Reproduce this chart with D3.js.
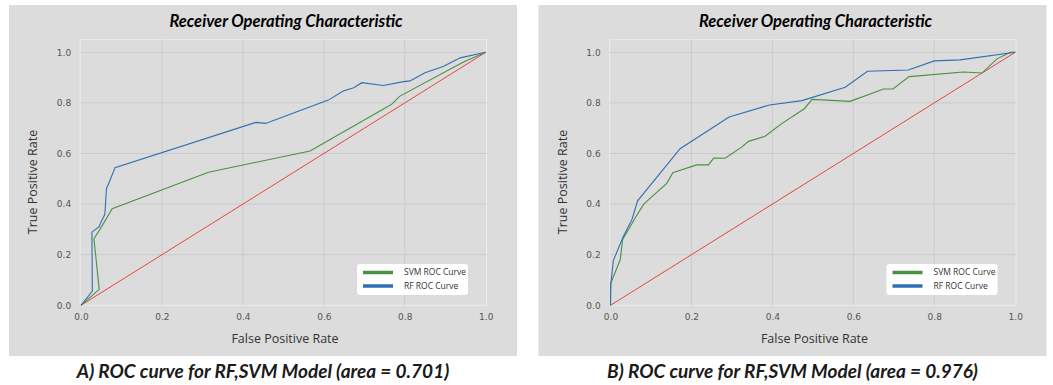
<!DOCTYPE html>
<html>
<head>
<meta charset="utf-8">
<script src="https://cdn.jsdelivr.net/npm/d3@7"></script>
<style>
  body { margin: 0; background: #fff; }
  svg { display: block; }
</style>
</head>
<body>
<svg id="chart" width="1053" height="385"></svg>
<script>
// ROC points: [fpr, tpr]
const rfA = [[0,0],[0.028,0.056],[0.027,0.289],[0.045,0.311],[0.049,0.327],[0.059,0.36],[0.063,0.462],
  [0.072,0.495],[0.084,0.544],[0.432,0.723],[0.456,0.719],[0.611,0.811],[0.648,0.847],[0.674,0.86],
  [0.694,0.88],[0.747,0.869],[0.797,0.884],[0.813,0.887],[0.85,0.919],[0.895,0.944],[0.937,0.978],[1,1]];
const svmA = [[0,0],[0.045,0.063],[0.032,0.263],[0.051,0.311],[0.077,0.382],[0.315,0.526],[0.566,0.61],
  [0.743,0.772],[0.768,0.795],[0.787,0.826],[0.945,0.962],[1,1]];

const rfB = [[0,0],[0,0.073],[0.007,0.177],[0.032,0.273],[0.053,0.339],[0.067,0.413],[0.172,0.619],
  [0.293,0.744],[0.393,0.792],[0.473,0.809],[0.58,0.862],[0.635,0.925],[0.736,0.93],[0.8,0.966],
  [0.864,0.97],[1,1]];
const svmB = [[0,0],[0.001,0.089],[0.024,0.18],[0.03,0.26],[0.061,0.345],[0.082,0.4],[0.139,0.482],
  [0.154,0.524],[0.213,0.555],[0.242,0.555],[0.255,0.582],[0.283,0.581],[0.325,0.626],[0.341,0.648],
  [0.382,0.668],[0.423,0.718],[0.479,0.777],[0.498,0.814],[0.592,0.806],[0.675,0.855],[0.698,0.855],
  [0.738,0.904],[0.872,0.922],[0.918,0.918],[0.955,0.974],[0.988,1],[1,1]];

const chance = [[0,0],[1,1]];
const xTicks = [0, 0.2, 0.4, 0.6, 0.8, 1.0];
const yTicks = [0, 0.2, 0.4, 0.6, 0.8, 1.0];
const captions = ['A) ROC curve for RF,SVM Model (area = 0.701)', 'B) ROC curve for RF,SVM Model (area = 0.976)'];
const legendNames = ['SVM ROC Curve', 'RF ROC Curve'];

const GREEN = '#4b9040', BLUE = '#2f6fb3', RED = '#e8453c';
const svg = d3.select('#chart');

function drawPanel(ox, caption, rf, svm) {
  const g = svg.append('g').attr('transform', `translate(${ox},0)`);
  g.append('rect').attr('x', 9).attr('y', 5).attr('width', 508).attr('height', 351).attr('fill', '#dcdcdc');

  const x = d3.scaleLinear().domain([0, 1]).range([81, 485.7]);
  const y = d3.scaleLinear().domain([0, 1]).range([305.3, 52.3]);
  const left = x(-0.002), right = x(1.002), top = y(1.05), bottom = y(0);

  // axes frame
  g.append('rect').attr('x', left).attr('y', top).attr('width', right - left).attr('height', bottom - top)
    .attr('fill', '#dcdcdc').attr('stroke', '#ececec').attr('stroke-width', 1);

  // grid
  g.selectAll('.gx').data(xTicks.slice(1, -1)).join('line')
    .attr('x1', d => x(d)).attr('x2', d => x(d)).attr('y1', top).attr('y2', bottom)
    .attr('stroke', '#cbcbcb').attr('stroke-width', 1);
  g.selectAll('.gy').data(yTicks.slice(1)).join('line')
    .attr('x1', left).attr('x2', right).attr('y1', d => y(d)).attr('y2', d => y(d))
    .attr('stroke', '#cbcbcb').attr('stroke-width', 1);

  // tick labels
  const xAxis = g.append('g').attr('transform', `translate(0,${bottom})`)
    .call(d3.axisBottom(x).tickValues(xTicks).tickFormat(d3.format('.1f')).tickSize(0).tickPadding(8));
  const yAxis = g.append('g').attr('transform', `translate(${left},0)`)
    .call(d3.axisLeft(y).tickValues(yTicks).tickFormat(d3.format('.1f')).tickSize(0).tickPadding(9));
  [xAxis, yAxis].forEach(a => {
    a.select('.domain').remove();
    a.selectAll('text').attr('fill', '#555').style('font', '9px "DejaVu Sans"');
  });

  const line = d3.line().x(d => x(d[0])).y(d => y(d[1]));
  g.append('path').datum(chance).attr('d', line).attr('fill', 'none').attr('stroke', RED).attr('stroke-width', 1);
  g.append('path').datum(svm).attr('d', line).attr('fill', 'none').attr('stroke', GREEN).attr('stroke-width', 1.1);
  g.append('path').datum(rf).attr('d', line).attr('fill', 'none').attr('stroke', BLUE).attr('stroke-width', 1.1);

  // legend
  const lg = g.append('g').attr('transform', 'translate(357,264)');
  lg.append('rect').attr('width', 111).attr('height', 31).attr('rx', 3).attr('fill', '#fff');
  [GREEN, BLUE].forEach((c, i) => {
    lg.append('line').attr('x1', 6).attr('x2', 36).attr('y1', 8.5 + i * 13.5).attr('y2', 8.5 + i * 13.5)
      .attr('stroke', c).attr('stroke-width', 3.5);
    lg.append('text').attr('x', 47).attr('y', 8.5 + i * 13.5).attr('dy', '0.35em')
      .attr('fill', '#333').style('font', '8.5px "Open Sans"').text(legendNames[i]);
  });

  g.append('text').attr('x', 286).attr('y', 27).attr('text-anchor', 'middle')
    .style('font', 'italic bold 16.5px Lato').attr('fill', '#000').text('Receiver Operating Characteristic');
  g.append('text').attr('x', 285).attr('y', 343).attr('text-anchor', 'middle')
    .style('font', '12.5px "Open Sans"').attr('fill', '#333').text('False Positive Rate');
  g.append('text').attr('transform', 'translate(37,182) rotate(-90)').attr('text-anchor', 'middle')
    .style('font', '12.5px "Open Sans"').attr('fill', '#333').text('True Positive Rate');
  g.append('text').attr('x', 263).attr('y', 378).attr('text-anchor', 'middle')
    .style('font', 'italic bold 19px Lato').attr('fill', '#1a1a1a').text(caption);
}

drawPanel(0, captions[0], rfA, svmA);
drawPanel(529.5, captions[1], rfB, svmB);
</script>
</body>
</html>
